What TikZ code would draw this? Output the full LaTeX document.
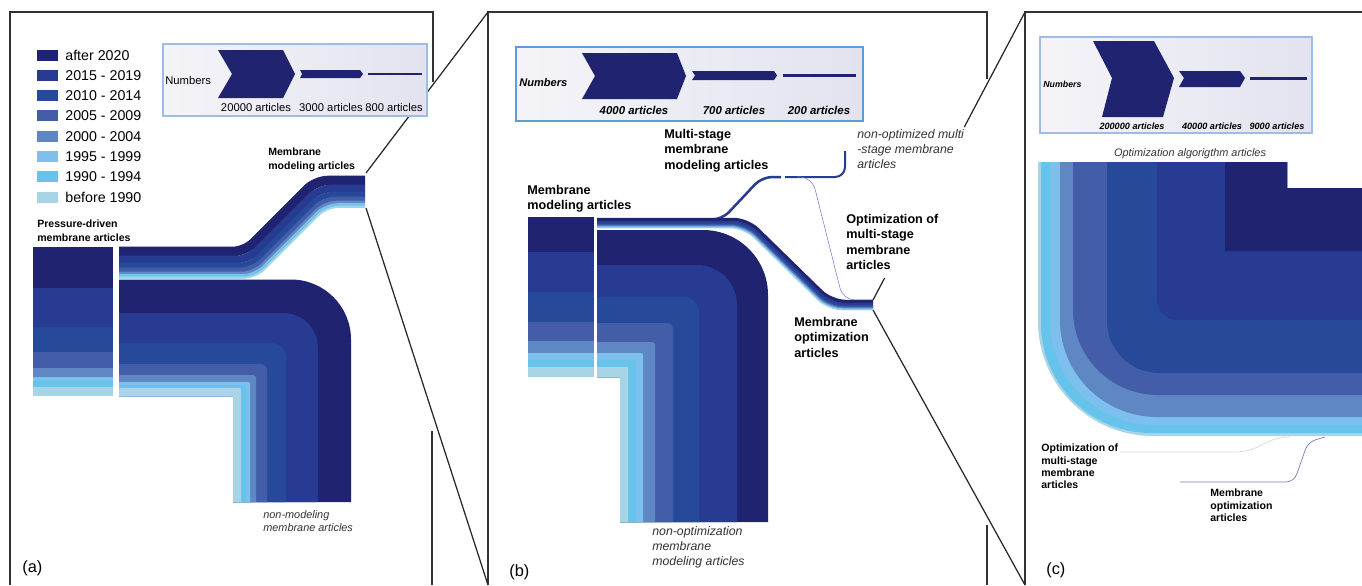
\documentclass[tikz,border=0pt]{standalone}
\usepackage{fontspec}
\setmainfont{Liberation Sans}
\usetikzlibrary{calc}
\newdimen\unitpx \unitpx=0.02cm
\definecolor{yr20}{HTML}{1F2370}
\definecolor{yr15}{HTML}{283B93}
\definecolor{yr10}{HTML}{264A99}
\definecolor{yr05}{HTML}{435DA9}
\definecolor{yr00}{HTML}{5E87C3}
\definecolor{yr95}{HTML}{7DC0EE}
\definecolor{yr90}{HTML}{65C3EC}
\definecolor{yrOld}{HTML}{A7D5E5}
\definecolor{boxEdge}{HTML}{9DBCE6}
\definecolor{boxEdgeDark}{HTML}{5E9AD6}
\definecolor{boxLeft}{HTML}{F4F4F8}
\definecolor{boxRight}{HTML}{E3E3F0}
\definecolor{faintViolet}{HTML}{7A78C8}
\tikzstyle{frameLine}=[draw=black!80, line width=0.75pt]
\tikzstyle{zoomLine}=[draw=black!85, line width=0.7pt]
\tikzstyle{numBox}=[draw=boxEdge, line width=0.6pt, left color=boxLeft, right color=boxRight]
\tikzstyle{legText}=[anchor=west, inner sep=0pt, font=\fontsize{8.1}{9}\selectfont]
\tikzstyle{panelTag}=[anchor=west, inner sep=0pt, font=\fontsize{9.3}{10}\selectfont]
\tikzstyle{boldA}=[anchor=north west, inner sep=0pt, align=left, font=\bfseries\fontsize{6}{7.9}\selectfont]
\tikzstyle{italA}=[anchor=north west, inner sep=0pt, align=left, text=black!80, font=\itshape\fontsize{6.2}{7.4}\selectfont]
\tikzstyle{boldB}=[anchor=north west, inner sep=0pt, align=left, font=\bfseries\fontsize{7.2}{8.8}\selectfont]
\tikzstyle{italB}=[anchor=north west, inner sep=0pt, align=left, text=black!80, font=\itshape\fontsize{7}{8.6}\selectfont]
\tikzstyle{boldC}=[anchor=north west, inner sep=0pt, align=left, font=\bfseries\fontsize{6}{7}\selectfont]
\tikzstyle{countA}=[inner sep=0pt, font=\fontsize{6.4}{7}\selectfont]
\tikzstyle{countB}=[inner sep=0pt, font=\bfseries\itshape\fontsize{6.5}{7}\selectfont]
\tikzstyle{countC}=[inner sep=0pt, font=\bfseries\itshape\fontsize{5.2}{6}\selectfont]

\begin{document}
\begin{tikzpicture}[x=0.02cm, y=-0.02cm]
\useasboundingbox (0,0) rectangle (1362,585);
\fill[white] (0,0) rectangle (1362,585);

% panel frames
\draw[frameLine] (433,82) -- (433,12) -- (10,12) -- (10,585);
\draw[frameLine] (432,431) -- (432,585);
\draw[frameLine] (987,79) -- (987,12) -- (488,12) -- (488,585);
\draw[frameLine] (987,525) -- (987,585);
\draw[frameLine] (1362,12) -- (1025,12) -- (1025,585);

\coordinate (modA-top) at (366,173);
\coordinate (modA-bot) at (366,208);
\coordinate (frameB-tl) at (488,12);
\coordinate (frameB-bl) at (488,585);
\coordinate (optB-top) at (873,300);
\coordinate (optB-bot) at (873,310);
\coordinate (frameC-tl) at (1025,12);
\coordinate (frameC-bl) at (1025,585);

\draw[zoomLine] (modA-top) -- (frameB-tl);
\draw[zoomLine] (modA-bot) -- (frameB-bl);
\draw[zoomLine] (optB-top) -- ($(optB-top)!0.076!(frameC-tl)$);
\draw[zoomLine] ($(optB-top)!0.6!(frameC-tl)$) -- (frameC-tl);
\draw[zoomLine] (optB-bot) -- (frameC-bl);

% legend
\foreach \col/\txt [count=\i from 0] in {yr20/after 2020, yr15/2015 - 2019, yr10/2010 - 2014, yr05/2005 - 2009, yr00/2000 - 2004, yr95/1995 - 1999, yr90/1990 - 1994, yrOld/before 1990} {
  \fill[\col] (37,{49.5+20.3*\i}) rectangle (58,{60.5+20.3*\i});
  \node[legText] (leg\i) at (65,{55+20.3*\i}) {\txt};
}

% (a) numbers
\draw[numBox] (163,44) rectangle (427,116);
\fill[yr20] (218,50) -- (283,50) -- (295,74) -- (283,98) -- (218,98) -- (232,74) -- cycle;
\fill[yr20] (300,70) -- (360,70) -- (363,74) -- (360,78) -- (300,78) -- (302,74) -- cycle;
\fill[yr20] (368,72.8) rectangle (422,74.8);
\node[countA, anchor=west] (numA) at (165,80) {Numbers};
\node[countA] (cntA1) at (256,107) {20000 articles};
\node[countA] (cntA2) at (331,107) {3000 articles};
\node[countA] (cntA3) at (394,107) {800 articles};

% (a) flows
\foreach \col/\ya/\yb in {yr20/247/288, yr15/288/327, yr10/327/352, yr05/352/368, yr00/368/377, yr95/377/381, yr90/381/387, yrOld/387/396}
  \fill[\col] (33,\ya) rectangle (113,\yb);
\foreach \col/\d/\w in {yr20/4.5/9, yr15/12.5/7, yr10/18.5/5, yr05/23/4, yr00/26.25/2.5, yr95/28.25/1.5, yr90/29.5/1, yrOld/30.75/1.5}
  \draw[\col, line width=(\w+0.6)*\unitpx, rounded corners=12*\unitpx] (119,247+\d) -- (243+0.414*\d,247+\d) -- (314+0.414*\d,176+\d) -- (365,176+\d);
\foreach \col/\yt/\xr/\rad in {yr20/279.5/351/60, yr15/313/318/35, yr10/343/286/15, yr05/364/267/6, yr00/375/256/3, yr95/382/250/2, yr90/385/246/1, yrOld/388/241/1}
  \fill[\col] (119,\yt) -- ({\xr-\rad},\yt) arc[start angle=-90, end angle=0, radius=\rad] -- (\xr,502) -- (233,502) -- (233,396) -- (119,396) -- cycle;

\node[boldA] (modA) at (268,148) {Membrane\\modeling articles};
\node[boldA] (presA) at (37,220) {Pressure-driven\\membrane articles};
\node[italA] (nonmodA) at (263,510) {non-modeling\\membrane articles};
\node[panelTag] (tagA) at (22,568) {(a)};

% (b) numbers
\draw[numBox, draw=boxEdgeDark] (516,47) rectangle (863,121);
\fill[yr20] (582,53) -- (677,53) -- (686,76) -- (677,99) -- (582,99) -- (595,76) -- cycle;
\fill[yr20] (692,71) -- (774,71) -- (777,75.5) -- (774,80) -- (692,80) -- (695,75.5) -- cycle;
\fill[yr20] (783,74) rectangle (856,77);
\node[countB, anchor=west, font=\bfseries\itshape\fontsize{6.3}{7}\selectfont] (numB) at (519,83) {Numbers};
\node[countB] (cntB1) at (634,110) {4000 articles};
\node[countB] (cntB2) at (734,110) {700 articles};
\node[countB] (cntB3) at (819,110) {200 articles};

% (b) flows
\foreach \col/\ya/\yb in {yr20/217/252, yr15/252/292, yr10/292/322, yr05/322/341, yr00/341/353, yr95/353/360, yr90/360/367, yrOld/367/377}
  \fill[\col] (528,\ya) rectangle (594,\yb);
\foreach \col/\yt/\xr/\rad in {yr20/230/768/65, yr15/265/737/40, yr10/297/699/15, yr05/323/673/6, yr00/342/655/3, yr95/353/643/2, yr90/360/636/1, yrOld/367/628/1}
  \fill[\col] (597,\yt) -- ({\xr-\rad},\yt) arc[start angle=-90, end angle=0, radius=\rad] -- (\xr,522) -- (620,522) -- (620,377) -- (597,377) -- cycle;
\draw[yr15, line width=2.5*\unitpx, rounded corners=10*\unitpx] (700,219.5) -- (722,219.5) -- (762,177) -- (781,177);
\draw[yr15, line width=2*\unitpx, rounded corners=10*\unitpx] (785,177) -- (845,177) -- (845,151);
\draw[faintViolet, line width=0.3pt, rounded corners=12*\unitpx] (797,177) -- (812,177) -- (843,300) -- (872,300);
\foreach \col/\d/\w in {yr20/1.5/3, yr15/4/2, yr10/5.75/1.5, yr05/7/1, yr00/8/1, yr95/9/1, yrOld/9.75/0.5}
  \draw[\col, line width=(\w+0.5)*\unitpx, rounded corners=14*\unitpx] (597,218+\d) -- (748-0.414*\d,218+\d) -- (832-0.414*\d,300+\d) -- (873,300+\d);

\node[boldB] (multiB) at (664,129) {Multi-stage\\membrane\\modeling articles};
\node[boldB] (modB) at (527,185) {Membrane\\modeling articles};
\node[boldB] (optmultiB) at (846,214) {Optimization of\\multi-stage\\membrane\\articles};
\node[boldB] (optB) at (794,317) {Membrane\\optimization\\articles};
\node[italB] (nonoptmultiB) at (857,129.5) {non-optimized multi\\-stage membrane\\articles};
\node[italB] (nonoptB) at (652,526.5) {non-optimization\\membrane\\modeling articles};
\node[panelTag] (tagB) at (509,572) {(b)};

% (c) numbers
\draw[numBox] (1040,37) rectangle (1312,133);
\fill[yr20] (1093,41) -- (1154,41) -- (1174,78) -- (1163,117) -- (1102,117) -- (1112,78) -- cycle;
\fill[yr20] (1179,71) -- (1240,71) -- (1245,78) -- (1240,87) -- (1179,87) -- (1184,78) -- cycle;
\fill[yr20] (1250,76.5) rectangle (1307,79.5);
\node[countC, anchor=west, font=\bfseries\itshape\fontsize{5}{6}\selectfont] (numC) at (1043,84) {Numbers};
\node[countC] (cntC1) at (1132,126) {200000 articles};
\node[countC] (cntC2) at (1212,126) {40000 articles};
\node[countC] (cntC3) at (1277,126) {9000 articles};

% (c) flows
\foreach \col/\xl/\yb/\rad in {yrOld/1038/436/115, yr90/1041/433/110, yr95/1050/425/104, yr00/1060/417/97, yr05/1073/395/85, yr10/1107/373/52, yr15/1157/320/20}
  \fill[\col] (\xl,162) -- (1287,162) -- (1287,188) -- (1362,188) -- (1362,\yb) -- ({\xl+\rad},\yb) arc[start angle=90, end angle=180, radius=\rad] -- cycle;
\fill[yr20] (1225,162) -- (1287,162) -- (1287,188) -- (1362,188) -- (1362,251) -- (1225,251) -- cycle;

\node[boldC] (optmultiC) at (1041,444) {Optimization of\\multi-stage\\membrane\\articles};
\node[boldC] (optC) at (1210,489) {Membrane\\optimization\\articles};
\node[inner sep=0pt, text=black!80, font=\itshape\fontsize{6.2}{7}\selectfont] (algC) at (1190,154) {Optimization algorigthm articles};
\node[panelTag] (tagC) at (1046,570) {(c)};
\coordinate (optmultiC-lead) at (1120,452);
\coordinate (optC-lead) at (1180,482);
\draw[black!15, line width=0.4pt] (optmultiC-lead) -- (1235,452) .. controls (1260,452) and (1265,437) .. (1290,437);
\draw[faintViolet, line width=0.4pt, rounded corners=8*\unitpx] (optC-lead) -- (1294,482) -- (1308,442) -- (1325,437);
\end{tikzpicture}
\end{document}
